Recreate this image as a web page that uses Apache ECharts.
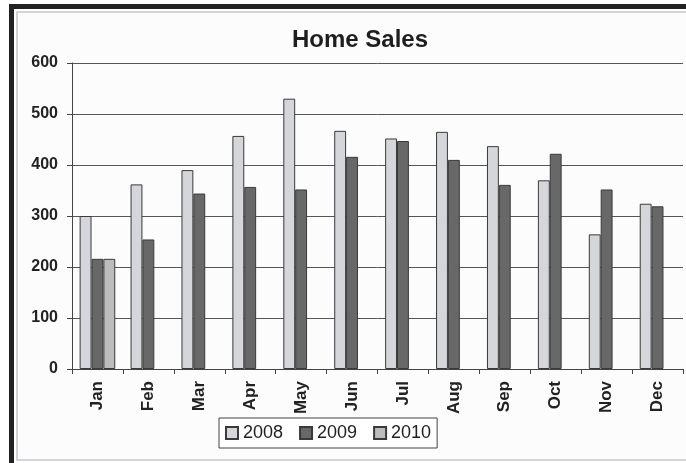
<!DOCTYPE html>
<html>
<head>
<meta charset="utf-8">
<script src="https://cdn.jsdelivr.net/npm/echarts@6/dist/echarts.min.js"></script>
<style>
html,body{margin:0;padding:0;background:#ffffff;}
#c{width:686px;height:463px;}
</style>
</head>
<body>
<div id="c"></div>
<script>
const months = ['Jan','Feb','Mar','Apr','May','Jun','Jul','Aug','Sep','Oct','Nov','Dec'];
const sales2008 = [300, 362, 390, 457, 530, 467, 452, 465, 437, 370, 264, 324];
const sales2009 = [216, 254, 344, 357, 352, 416, 447, 410, 361, 422, 352, 319];
const sales2010 = [216, null, null, null, null, null, null, null, null, null, null, null];
const yTicks = [0, 100, 200, 300, 400, 500, 600];

const chart = echarts.init(document.getElementById('c'), null, {renderer: 'canvas'});
const font = 'Liberation Sans, Arial, sans-serif';
const barStyle = (c) => ({color: c, borderColor: '#3a3a3a', borderWidth: 1});
chart.setOption({
  animation: false,
  backgroundColor: '#ffffff',
  graphic: [
    {type: 'rect', shape: {x: 17, y: 12, width: 672, height: 448}, style: {fill: '#fcfcfc', stroke: '#d4d4d8', lineWidth: 2}, z: -10},
    {type: 'rect', shape: {x: 9, y: 4, width: 680, height: 5}, style: {fill: '#222222'}, z: -5},
    {type: 'rect', shape: {x: 9, y: 4, width: 5, height: 460}, style: {fill: '#222222'}, z: -5}
  ],
  title: {
    text: 'Home Sales',
    left: 355, top: 23, textAlign: 'center',
    textStyle: {fontFamily: font, fontSize: 24, fontWeight: 'bold', color: '#1e1e1e'}
  },
  legend: {
    left: 219, top: 418,
    itemWidth: 12, itemHeight: 12, itemGap: 16,
    padding: [6, 6, 6, 6],
    borderColor: '#444', borderWidth: 1, backgroundColor: '#fff',
    textStyle: {fontFamily: font, fontSize: 18, color: '#222'},
    icon: 'rect',
    data: ['2008', '2009', '2010']
  },
  grid: {left: 72, right: 3, top: 63, bottom: 94, containLabel: false},
  xAxis: {
    type: 'category', data: months, boundaryGap: true,
    axisLine: {lineStyle: {color: '#444', width: 1}},
    axisTick: {show: true, length: 5, lineStyle: {color: '#444'}},
    axisLabel: {rotate: 90, margin: 12, fontFamily: font, fontSize: 17, fontWeight: 'bold', color: '#222'}
  },
  yAxis: {
    type: 'value', min: 0, max: 600, interval: 100,
    axisLine: {show: true, lineStyle: {color: '#444', width: 1}},
    axisTick: {show: true, length: 5, lineStyle: {color: '#444'}},
    axisLabel: {margin: 14, fontFamily: font, fontSize: 16, fontWeight: 'bold', color: '#222',
      formatter: (v) => yTicks.includes(v) ? String(v) : ''},
    splitLine: {show: true, lineStyle: {color: '#555', width: 1}}
  },
  series: [
    {name: '2008', type: 'bar', data: sales2008, barGap: '0%', barCategoryGap: '30%', itemStyle: barStyle('#d5d6da')},
    {name: '2009', type: 'bar', data: sales2009, itemStyle: barStyle('#686868')},
    {name: '2010', type: 'bar', data: sales2010, itemStyle: barStyle('#bcbcbc')}
  ]
});
</script>
</body>
</html>
